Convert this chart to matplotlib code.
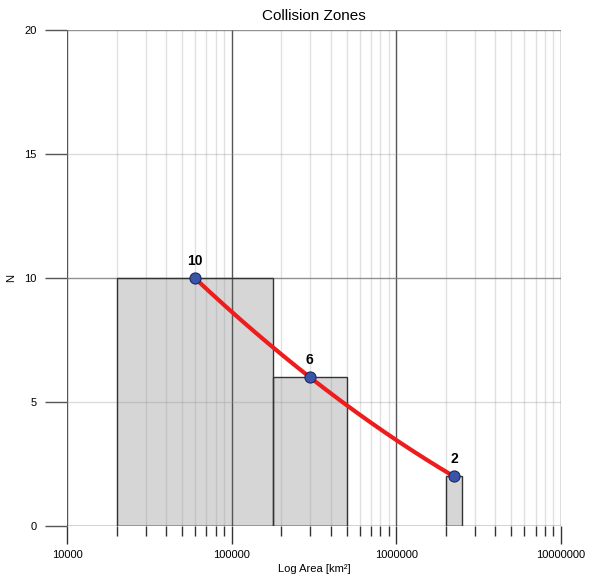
import numpy as np
import matplotlib.pyplot as plt
from matplotlib.ticker import LogLocator, FixedLocator, NullFormatter

plt.rcParams['font.family'] = ['Liberation Sans', 'DejaVu Sans']

# bins (km^2) and counts
bin_left = [20000, 178000, 2000000]
bin_right = [178000, 500000, 2500000]
counts = [10, 6, 2]

# points at geometric bin centres
pt_x = [59660, 298300, 2236000]
pt_y = [10, 6, 2]

fig = plt.figure(figsize=(5.96, 5.83), dpi=100)
ax = fig.add_axes([0.1124, 0.0978, 0.8289, 0.8507])

ax.set_xscale('log')
ax.set_xlim(10000, 10000000)
ax.set_ylim(0, 20)

for s in ax.spines.values():
    s.set_visible(False)

# grid
for d in [1e4, 1e5, 1e6, 1e7]:
    ax.axvline(d, color='#555555', lw=1.0, zorder=3)
for d in [1e4, 1e5, 1e6]:
    for m in range(2, 10):
        ax.axvline(d * m, color='#999999', lw=1.0, zorder=3, alpha=0.3)
for yv, c, a in [(5, '#999999', 0.35), (10, '#777777', 0.8), (15, '#999999', 0.35), (20, '#777777', 0.8)]:
    ax.axhline(yv, color=c, lw=1.0, zorder=3, alpha=a)
ax.axhline(0, color='#222222', lw=1.0, zorder=4)

# bars: fill below grid, outline above
widths = [r - l for l, r in zip(bin_left, bin_right)]
ax.bar(bin_left, counts, width=widths, align='edge', color='#d6d6d6',
       lw=0, zorder=2)
ax.bar(bin_left, counts, width=widths, align='edge', fill=False,
       edgecolor='#333333', lw=1.0, zorder=4)

# smooth curve through points
lx = np.log10(pt_x)
coef = np.polyfit(lx, pt_y, 2)
xs = np.linspace(lx[0], lx[-1], 200)
ax.plot(10 ** xs, np.polyval(coef, xs), color='#ee1c1c', lw=3, zorder=5)
ax.plot(pt_x, pt_y, 'o', color='#3a55a8', mec='#1a2a60', mew=0.8, ms=8, zorder=6)
for x, y in zip(pt_x, pt_y):
    ax.text(x, y + 0.4, str(y), ha='center', va='bottom', fontsize=10,
            fontweight='bold', zorder=7)

# ticks
ax.xaxis.set_major_locator(FixedLocator([1e4, 1e5, 1e6, 1e7]))
ax.set_xticklabels(['10000', '100000', '1000000', '10000000'])
ax.xaxis.set_minor_locator(LogLocator(base=10, subs=np.arange(2, 10)))
ax.xaxis.set_minor_formatter(NullFormatter())
ax.tick_params(axis='x', which='major', length=13, width=1, color='#333333',
               labelsize=8, pad=4)
ax.tick_params(axis='x', which='minor', length=7, width=1, color='#333333')
ax.set_yticks([0, 5, 10, 15, 20])
ax.tick_params(axis='y', length=16, width=1, color='#555555', labelsize=8, pad=6)

ax.set_xlabel('Log Area [km²]', fontsize=8, labelpad=3)
ax.set_ylabel('N', fontsize=8, labelpad=6)
ax.set_title('Collision Zones', fontsize=11, pad=7)

fig.savefig('out.png', dpi=100)
